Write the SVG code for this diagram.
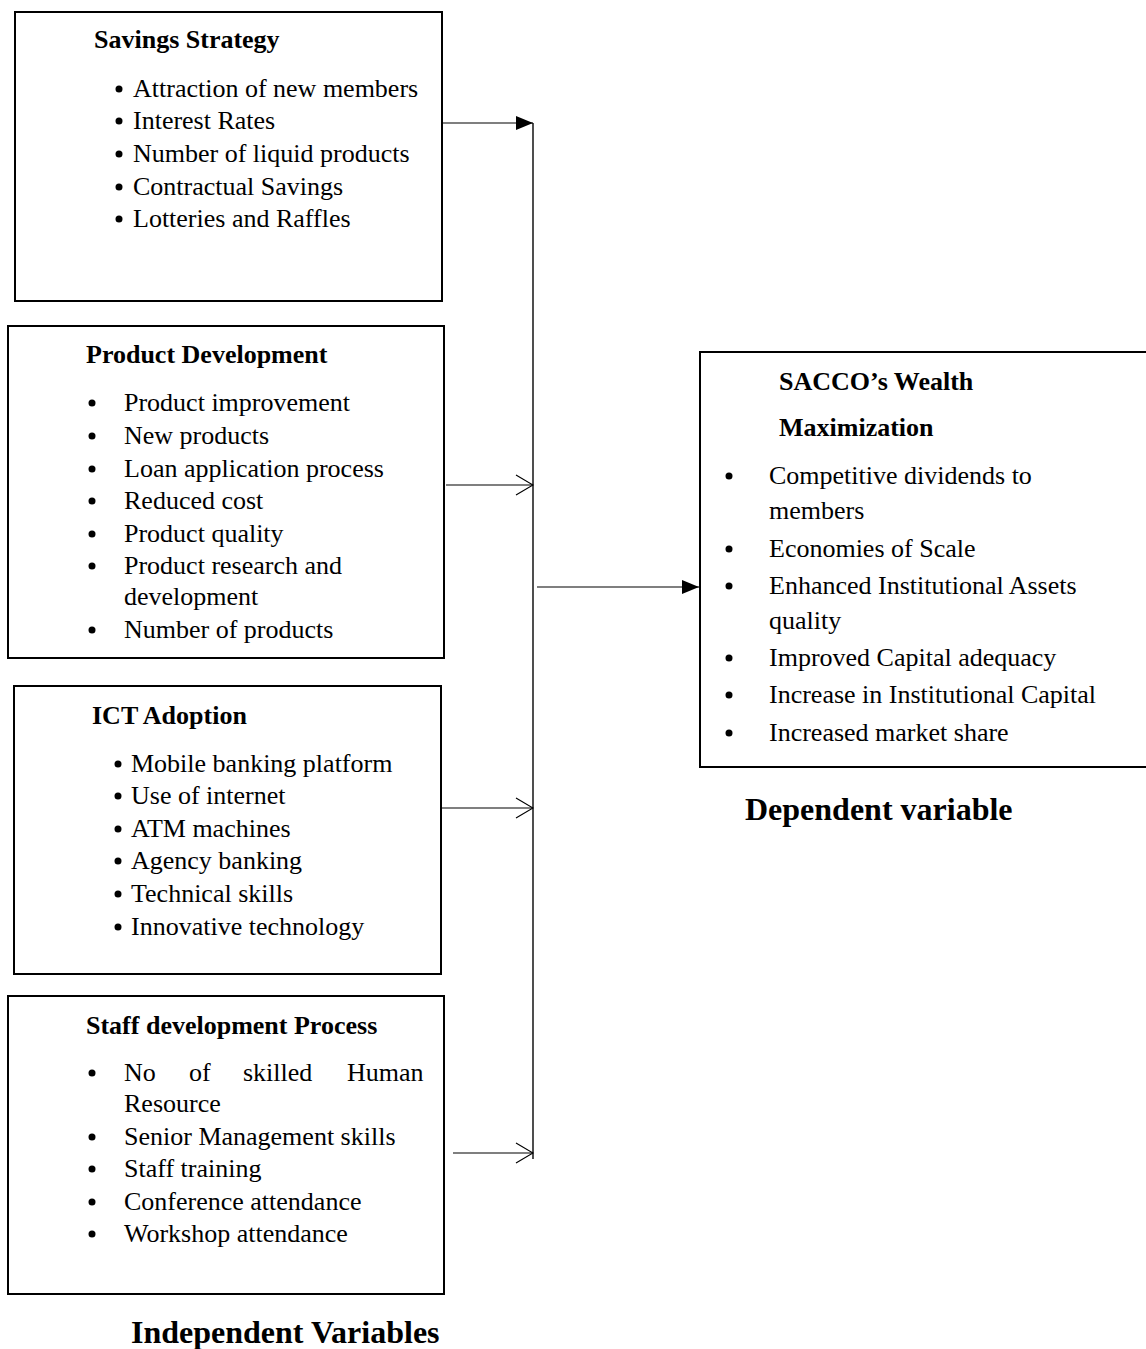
<svg xmlns="http://www.w3.org/2000/svg" width="1146" height="1349" viewBox="0 0 1146 1349">
<defs>
<style>
.box{fill:#fff;stroke:#000;stroke-width:2}
.t{font-family:"Liberation Serif","Times New Roman",serif;font-size:26px;fill:#000}
.h{font-family:"Liberation Serif","Times New Roman",serif;font-size:26px;font-weight:bold;fill:#000}
.big{font-family:"Liberation Serif","Times New Roman",serif;font-size:32px;font-weight:bold;fill:#000}
.b{fill:#000}
.ln{stroke:#000;stroke-width:1.2;fill:none}
.vl{stroke:#222;stroke-width:1.6;fill:none}
</style>
<marker id="fill" markerWidth="18" markerHeight="14" refX="17" refY="7" orient="auto" markerUnits="userSpaceOnUse">
<path d="M0,0 L17,7 L0,14 Z" fill="#000"/>
</marker>
<marker id="open" markerWidth="20" markerHeight="24" refX="19" refY="12" orient="auto" markerUnits="userSpaceOnUse">
<path d="M2,2 L19,12 L2,22" fill="none" stroke="#000" stroke-width="1.2"/>
</marker>
</defs>

<g id="savings">
<rect class="box" x="15" y="12" width="427" height="289"/>
<text class="h" x="94" y="48">Savings Strategy</text>
<circle class="b" cx="119" cy="89" r="3.5"/><text class="t" x="133" y="97">Attraction of new members</text>
<circle class="b" cx="119" cy="121" r="3.5"/><text class="t" x="133" y="129">Interest Rates</text>
<circle class="b" cx="119" cy="154" r="3.5"/><text class="t" x="133" y="162">Number of liquid products</text>
<circle class="b" cx="119" cy="187" r="3.5"/><text class="t" x="133" y="195">Contractual Savings</text>
<circle class="b" cx="119" cy="219" r="3.5"/><text class="t" x="133" y="227">Lotteries and Raffles</text>
</g>

<g id="product">
<rect class="box" x="8" y="326" width="436" height="332"/>
<text class="h" x="86" y="363">Product Development</text>
<circle class="b" cx="92" cy="403" r="3.5"/><text class="t" x="124" y="411">Product improvement</text>
<circle class="b" cx="92" cy="436" r="3.5"/><text class="t" x="124" y="444">New products</text>
<circle class="b" cx="92" cy="469" r="3.5"/><text class="t" x="124" y="477">Loan application process</text>
<circle class="b" cx="92" cy="501" r="3.5"/><text class="t" x="124" y="509">Reduced cost</text>
<circle class="b" cx="92" cy="534" r="3.5"/><text class="t" x="124" y="542">Product quality</text>
<circle class="b" cx="92" cy="566" r="3.5"/><text class="t" x="124" y="574">Product research and</text>
<text class="t" x="124" y="605">development</text>
<circle class="b" cx="92" cy="630" r="3.5"/><text class="t" x="124" y="638">Number of products</text>
</g>

<g id="ict">
<rect class="box" x="14" y="686" width="427" height="288"/>
<text class="h" x="92" y="724">ICT Adoption</text>
<circle class="b" cx="118" cy="764" r="3.5"/><text class="t" x="131" y="772">Mobile banking platform</text>
<circle class="b" cx="118" cy="796" r="3.5"/><text class="t" x="131" y="804">Use of internet</text>
<circle class="b" cx="118" cy="829" r="3.5"/><text class="t" x="131" y="837">ATM machines</text>
<circle class="b" cx="118" cy="861" r="3.5"/><text class="t" x="131" y="869">Agency banking</text>
<circle class="b" cx="118" cy="894" r="3.5"/><text class="t" x="131" y="902">Technical skills</text>
<circle class="b" cx="118" cy="927" r="3.5"/><text class="t" x="131" y="935">Innovative technology</text>
</g>

<g id="staff">
<rect class="box" x="8" y="996" width="436" height="298"/>
<text class="h" x="86" y="1034">Staff development Process</text>
<circle class="b" cx="92" cy="1073" r="3.5"/>
<text class="t" y="1081"><tspan x="124">No</tspan><tspan x="189">of</tspan><tspan x="243">skilled</tspan><tspan x="347">Human</tspan></text>
<text class="t" x="124" y="1112">Resource</text>
<circle class="b" cx="92" cy="1137" r="3.5"/><text class="t" x="124" y="1145">Senior Management skills</text>
<circle class="b" cx="92" cy="1169" r="3.5"/><text class="t" x="124" y="1177">Staff training</text>
<circle class="b" cx="92" cy="1202" r="3.5"/><text class="t" x="124" y="1210">Conference attendance</text>
<circle class="b" cx="92" cy="1234" r="3.5"/><text class="t" x="124" y="1242">Workshop attendance</text>
</g>

<g id="wealth">
<rect class="box" x="700" y="352" width="460" height="415"/>
<text class="h" x="779" y="390">SACCO’s Wealth</text>
<text class="h" x="779" y="436">Maximization</text>
<circle class="b" cx="729" cy="476" r="3.5"/><text class="t" x="769" y="484">Competitive dividends to</text>
<text class="t" x="769" y="519">members</text>
<circle class="b" cx="729" cy="549" r="3.5"/><text class="t" x="769" y="557">Economies of Scale</text>
<circle class="b" cx="729" cy="586" r="3.5"/><text class="t" x="769" y="594">Enhanced Institutional Assets</text>
<text class="t" x="769" y="629">quality</text>
<circle class="b" cx="729" cy="658" r="3.5"/><text class="t" x="769" y="666">Improved Capital adequacy</text>
<circle class="b" cx="729" cy="695" r="3.5"/><text class="t" x="769" y="703">Increase in Institutional Capital</text>
<circle class="b" cx="729" cy="733" r="3.5"/><text class="t" x="769" y="741">Increased market share</text>
</g>

<g id="labels">
<text class="big" x="745" y="820">Dependent variable</text>
<text class="big" x="131" y="1343">Independent Variables</text>
</g>

<g id="connectors">
<line class="vl" x1="533" y1="123" x2="533" y2="1159"/>
<line class="ln" x1="442" y1="123" x2="533" y2="123" marker-end="url(#fill)"/>
<line class="ln" x1="446" y1="485" x2="533" y2="485" marker-end="url(#open)"/>
<line class="ln" x1="441" y1="808" x2="533" y2="808" marker-end="url(#open)"/>
<line class="ln" x1="453" y1="1153" x2="533" y2="1153" marker-end="url(#open)"/>
<line class="ln" x1="537" y1="587" x2="699" y2="587" marker-end="url(#fill)"/>
</g>
</svg>
